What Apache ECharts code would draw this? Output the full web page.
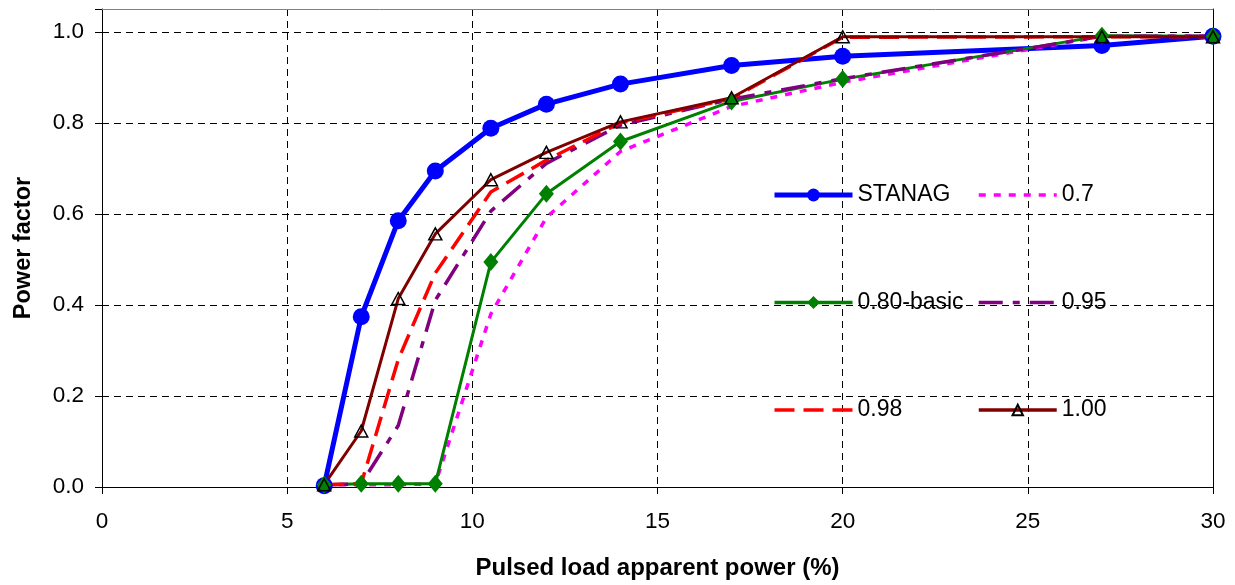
<!DOCTYPE html>
<html>
<head>
<meta charset="utf-8">
<script src="https://cdn.jsdelivr.net/npm/echarts@6/dist/echarts.min.js"></script>
<style>
html,body{margin:0;padding:0;background:#fff;}
#chart{width:1235px;height:585px;}
</style>
</head>
<body>
<div id="chart"></div>
<script>
const xValues = [6, 7, 8, 9, 10.5, 12, 14, 17, 20, 27, 30];
const stanag = [0.003, 0.374, 0.585, 0.694, 0.788, 0.841, 0.885, 0.926, 0.946, 0.970, 0.990];
const pf070  = [0.005, 0.005, 0.005, 0.007, 0.380, 0.592, 0.737, 0.836, 0.889, 0.990, 0.990];
const pf080  = [0.005, 0.007, 0.007, 0.007, 0.494, 0.644, 0.759, 0.847, 0.896, 0.991, 0.990];
const pf095  = [0.005, 0.007, 0.135, 0.410, 0.606, 0.711, 0.795, 0.852, 0.897, 0.990, 0.990];
const pf098  = [0.005, 0.007, 0.280, 0.470, 0.648, 0.718, 0.800, 0.853, 0.988, 0.989, 0.989];
const pf100  = [0.005, 0.123, 0.414, 0.556, 0.675, 0.735, 0.802, 0.855, 0.989, 0.989, 0.989];
const seriesNames = ['STANAG', '0.7', '0.80-basic', '0.95', '0.98', '1.00'];
const xTicks = [0, 5, 10, 15, 20, 25, 30];
const yTicks = [0.0, 0.2, 0.4, 0.6, 0.8, 1.0];
const xTitle = 'Pulsed load apparent power (%)';
const yTitle = 'Power factor';

const FONT = 'Liberation Sans';
function pairs(ys) { return xValues.map((x, i) => [x, ys[i]]); }

const chart = echarts.init(document.getElementById('chart'), null, {renderer: 'canvas'});
const yStep = yTicks[1] - yTicks[0];
const yTop = 1.05;

const legendText = {fontFamily: FONT, fontSize: 23, color: '#000', lineHeight: 24};
const noSym = {opacity: 0};

const option = {
  animation: false,
  backgroundColor: '#fff',
  grid: {left: 102, right: 22, top: 9, bottom: 93, containLabel: false},
  xAxis: [{
    type: 'value', min: xTicks[0], max: xTicks[xTicks.length - 1], interval: xTicks[1] - xTicks[0],
    name: xTitle, nameLocation: 'middle', nameGap: 69,
    nameTextStyle: {fontFamily: FONT, fontWeight: 'bold', fontSize: 24, color: '#000'},
    axisLine: {onZero: false, lineStyle: {color: '#000', width: 1}},
    axisTick: {show: true, length: 7, lineStyle: {color: '#000'}},
    axisLabel: {fontFamily: FONT, fontSize: 22.5, color: '#000', margin: 23},
    splitLine: {show: true, lineStyle: {color: '#000', width: 1, type: [7, 5]}}
  }, {
    type: 'value', position: 'top', min: xTicks[0], max: xTicks[xTicks.length - 1],
    axisLine: {show: true, onZero: false, lineStyle: {color: '#808080', width: 1}},
    axisTick: {show: false}, axisLabel: {show: false}, splitLine: {show: false}
  }],
  yAxis: [{
    type: 'value', min: yTicks[0], max: yTop, interval: yStep,
    name: yTitle, nameLocation: 'middle', nameGap: 66, nameRotate: 90,
    nameTextStyle: {fontFamily: FONT, fontWeight: 'bold', fontSize: 23.5, color: '#000'},
    axisLine: {show: true, onZero: false, lineStyle: {color: '#000', width: 1}},
    axisTick: {show: true, length: 7, lineStyle: {color: '#000'}},
    axisLabel: {
      fontFamily: FONT, fontSize: 22.5, color: '#000', margin: 18,
      formatter: v => (Math.abs(v / yStep - Math.round(v / yStep)) < 1e-6 ? v.toFixed(1) : '')
    },
    splitLine: {show: true, lineStyle: {color: ['#000', '#000', '#000', '#000', '#000', '#000', 'rgba(0,0,0,0)'], width: 1, type: [7, 5]}}
  }, {
    type: 'value', position: 'right', min: 0, max: 1,
    axisLine: {show: true, onZero: false, lineStyle: {color: '#000', width: 1}},
    axisTick: {show: false}, axisLabel: {show: false}, splitLine: {show: false}
  }],
  legend: [{
    orient: 'vertical', left: 767, top: 178,
    data: [
      {name: seriesNames[0], lineStyle: {width: 5}},
      {name: seriesNames[2], lineStyle: {width: 3.5}},
      {name: seriesNames[4], itemStyle: noSym, lineStyle: {width: 3.5}}
    ],
    itemWidth: 78, itemHeight: 16, itemGap: 83.5,
    textStyle: legendText,
    selectedMode: false
  }, {
    orient: 'vertical', left: 972, top: 178,
    data: [
      {name: seriesNames[1], itemStyle: noSym, lineStyle: {width: 3.5}},
      {name: seriesNames[3], itemStyle: noSym, lineStyle: {width: 3.5}},
      {name: seriesNames[5], lineStyle: {width: 3.5}}
    ],
    itemWidth: 78, itemHeight: 13, itemGap: 83.5,
    textStyle: legendText,
    selectedMode: false
  }],
  series: [{
    name: seriesNames[0], type: 'line', data: pairs(stanag),
    symbol: 'circle', symbolSize: 17, showSymbol: true,
    lineStyle: {color: '#0000ff', width: 5},
    itemStyle: {color: '#0000ff'}
  }, {
    name: seriesNames[1], type: 'line', data: pairs(pf070),
    symbol: 'none',
    lineStyle: {color: '#ff00ff', width: 3.5, type: [7, 8]},
    itemStyle: {color: '#ff00ff'}
  }, {
    name: seriesNames[2], type: 'line', data: pairs(pf080),
    symbol: 'diamond', symbolSize: [15, 18], showSymbol: true,
    lineStyle: {color: '#008000', width: 3},
    itemStyle: {color: '#008000'}
  }, {
    name: seriesNames[3], type: 'line', data: pairs(pf095),
    symbol: 'none',
    lineStyle: {color: '#800080', width: 3.5, type: [24, 10, 7, 10]},
    itemStyle: {color: '#800080'}
  }, {
    name: seriesNames[4], type: 'line', data: pairs(pf098),
    symbol: 'none',
    lineStyle: {color: '#ff0000', width: 3.5, type: [20, 9]},
    itemStyle: {color: '#ff0000'}
  }, {
    name: seriesNames[5], type: 'line', data: pairs(pf100),
    symbol: 'triangle', symbolSize: [13, 12], showSymbol: true,
    lineStyle: {color: '#800000', width: 3},
    itemStyle: {color: 'rgba(255,255,255,0)', borderColor: '#000', borderWidth: 1.5}
  }]
};
chart.setOption(option);
</script>
</body>
</html>
